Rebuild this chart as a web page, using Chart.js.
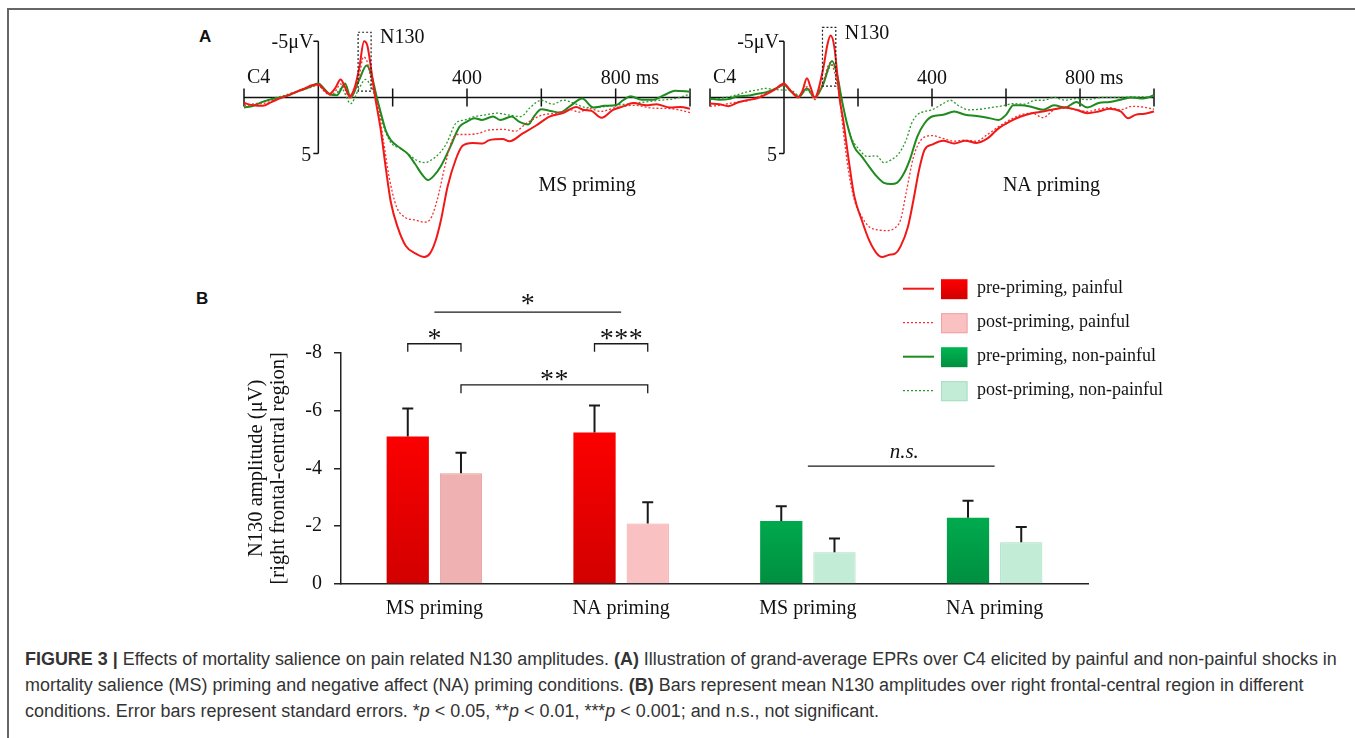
<!DOCTYPE html>
<html>
<head>
<meta charset="utf-8">
<script src="https://cdn.jsdelivr.net/npm/chart.js@4.4.0/dist/chart.umd.min.js"></script>
<style>
  body { margin: 0; width: 1355px; height: 738px; overflow: hidden; background: #fff; position: relative; }
  .frame { position: absolute; left: 7px; top: 8px; width: 1500px; height: 900px; border-left: 2px solid #666; border-top: 2px solid #666; }
  canvas { position: absolute; }
  .panel { position: absolute; font: bold 17px 'Liberation Sans', Arial, sans-serif; line-height: 17px; color: #111; }
  #caption { position: absolute; left: 25px; top: 646px; font-family: 'Liberation Sans', Arial, sans-serif; font-size: 16px; line-height: 26px; color: #333; white-space: nowrap; }
  #caption div { display: block; }
  #cap1 { display: inline-block !important; }
</style>
</head>
<body>
<div class="frame"></div>
<div class="panel" style="left:199px;top:28px">A</div>
<div class="panel" style="left:196px;top:290px">B</div>
<canvas id="erpMS" width="466" height="251" style="left:234px;top:15px"></canvas>
<canvas id="erpNA" width="464" height="251" style="left:700px;top:15px"></canvas>
<canvas id="bars" width="935" height="370" style="left:245px;top:260px"></canvas>
<div id="caption">
  <div><span id="cap1"><b>FIGURE 3 |</b> Effects of mortality salience on pain related N130 amplitudes. <b>(A)</b> Illustration of grand-average EPRs over C4 elicited by painful and non-painful shocks in</span></div>
  <div>mortality salience (MS) priming and negative affect (NA) priming conditions. <b>(B)</b> Bars represent mean N130 amplitudes over right frontal-central region in different</div>
  <div>conditions. Error bars represent standard errors. *<i>p</i> &lt; 0.05, **<i>p</i> &lt; 0.01, ***<i>p</i> &lt; 0.001; and n.s., not significant.</div>
</div>
<script>
// ---- Panel A: grand-average ERPs over C4, [ms, µV] ----
const msPrePainful = [[-200,0.5],[-175,0.7],[-150,0.75],[-125,0.4],[-105,0.1],[-80,-0.2],[-60,-0.5],[-40,-0.75],[-15,-1.1],[0,-1.15],[15,-0.7],[29,-0.3],[45,-0.8],[60,-1.6],[72,-0.9],[84,-0.1],[97,-0.8],[110,-2.6],[123,-5.0],[132,-4.6],[143,-2.3],[153,0],[168,2.9],[182,6.4],[195,9.3],[213,11.5],[235,13.2],[262,13.9],[285,14.2],[300,13.9],[315,12.8],[330,10.9],[348,7.9],[370,5.5],[388,4.3],[415,4.05],[442,4.1],[460,3.8],[496,3.7],[514,3.9],[550,3.2],[586,2.5],[622,1.7],[658,1.4],[694,0.85],[712,1.1],[735,1.2],[762,1.8],[793,1.1],[820,0.8],[847,0.5],[883,0.7],[910,0.6],[946,0.9],[975,0.85],[1000,1.0]];
const msPostPainful = [[-200,0.75],[-175,0.6],[-150,0.55],[-125,0.3],[-100,0.0],[-75,-0.3],[-50,-0.6],[-25,-0.95],[0,-1.05],[15,-0.6],[30,-0.2],[45,-0.5],[60,-1.2],[72,-0.7],[85,0.1],[98,-0.6],[110,-1.8],[121,-3.6],[130,-3.3],[142,-1.6],[152,0],[160,0.6],[175,3.8],[190,7.0],[210,9.7],[235,10.7],[260,10.9],[285,11.1],[300,10.9],[320,9.1],[340,6.2],[360,3.8],[375,3.3],[400,3.3],[430,3.2],[460,2.9],[500,2.85],[530,3.0],[560,2.3],[600,1.6],[640,1.4],[680,1.1],[700,1.3],[730,1.0],[760,1.25],[800,0.9],[850,0.7],[900,0.95],[950,1.0],[1000,1.35]];
const msPreNonPainful = [[-200,0.9],[-175,0.75],[-150,0.4],[-125,0.15],[-100,0],[-75,-0.25],[-50,-0.6],[-25,-0.9],[0,-1.25],[15,-0.8],[30,-0.3],[50,-0.2],[72,-1.25],[87,0],[109,-1.5],[130,-2.85],[143,-2.0],[158,0.1],[170,1.6],[182,3.0],[195,3.8],[220,4.5],[240,5.0],[260,5.9],[280,6.9],[295,7.35],[310,7.0],[330,6.1],[355,4.4],[380,2.6],[400,2.15],[420,1.85],[440,2.0],[470,1.7],[490,2.0],[520,1.7],[540,2.15],[565,2.4],[580,1.7],[600,1.05],[625,1.2],[650,1.35],[680,0.7],[710,0.1],[740,0.9],[770,0.75],[800,0.7],[820,0.25],[840,-0.1],[870,0.2],[900,0.2],[930,-0.2],[960,-0.6],[1000,-0.5]];
const msPostNonPainful = [[-200,0.7],[-175,0.6],[-150,0.4],[-125,0.1],[-100,-0.1],[-75,-0.35],[-50,-0.6],[-25,-0.85],[0,-1.1],[15,-0.6],[30,-0.3],[45,-0.3],[62,-0.8],[87,0.55],[108,-0.7],[127,-1.6],[140,-1.1],[155,0.1],[170,2.0],[185,3.4],[200,4.2],[220,4.5],[240,5.0],[265,5.6],[285,5.8],[305,5.55],[325,5.0],[345,4.1],[370,2.3],[395,2.0],[420,1.7],[450,1.55],[480,1.4],[510,1.55],[545,1.7],[570,0.9],[600,0.25],[630,0.6],[660,0.25],[690,0.55],[720,0.9],[760,0.85],[800,0.7],[840,0.55],[880,0.4],[920,0.25],[960,0.1],[1000,-0.3]];

const naPrePainful = [[-200,0.55],[-175,0.6],[-150,0.78],[-125,0.45],[-100,0.25],[-75,0.1],[-50,-0.25],[-25,-0.7],[0,-1.25],[15,-0.7],[38,0],[50,-0.6],[62,-1.7],[72,-0.9],[83,0],[105,-2.4],[118,-4.8],[126,-5.5],[136,-4.5],[143,-2.4],[150,0],[160,2.0],[175,5.6],[190,8.8],[210,10.9],[230,12.7],[250,13.85],[265,14.2],[285,14.0],[300,13.9],[315,13.25],[335,11.5],[350,9.1],[365,6.45],[380,4.65],[400,4.2],[430,3.85],[460,4.1],[490,3.85],[520,4.05],[550,3.65],[580,2.75],[610,2.15],[640,1.7],[670,1.4],[700,1.25],[730,1.05],[760,0.9],[790,1.1],[820,1.4],[850,1.25],[880,1.0],[910,1.25],[930,1.85],[950,1.55],[975,1.45],[1000,1.25]];
const naPostPainful = [[-200,0.8],[-175,0.7],[-150,0.55],[-125,0.4],[-100,0.3],[-75,0.0],[-50,-0.35],[-25,-0.7],[0,-1.1],[20,-0.6],[40,-0.1],[62,-0.95],[83,0.2],[105,-1.3],[125,-3.1],[140,-1.8],[150,0],[160,2.9],[175,6.7],[190,9.1],[210,10.6],[230,11.5],[255,11.8],[280,11.85],[300,11.6],[315,10.9],[330,8.5],[350,5.3],[370,3.8],[400,3.4],[430,3.65],[460,3.9],[490,3.8],[520,3.9],[550,3.3],[580,2.6],[610,2.0],[640,1.55],[670,1.4],[700,1.8],[730,1.1],[760,0.95],[790,1.1],[820,1.25],[850,1.05],[880,0.9],[910,1.1],[940,0.8],[970,0.85],[1000,1.05]];
const naPreNonPainful = [[-200,0.1],[-175,0.2],[-150,0.15],[-125,-0.1],[-100,-0.15],[-75,-0.3],[-50,-0.45],[-25,-0.75],[0,-1.1],[20,-0.5],[40,-0.05],[62,-0.8],[83,0],[105,-1.1],[130,-3.25],[145,-1.8],[155,0],[170,2.3],[190,4.4],[210,5.25],[230,6.15],[250,7.0],[270,7.6],[290,7.7],[305,7.6],[320,7.0],[340,5.55],[360,3.5],[380,2.3],[400,1.7],[430,1.55],[460,1.25],[490,1.55],[520,1.65],[550,1.8],[580,2.0],[600,1.55],[620,0.7],[640,0.7],[670,0.85],[700,1.1],[730,0.7],[760,0.9],[790,0.4],[820,0.9],[850,0.5],[880,0.4],[910,0.2],[940,0],[970,0.1],[1000,-0.2]];
const naPostNonPainful = [[-200,0.2],[-175,0.1],[-150,-0.05],[-125,-0.25],[-100,-0.5],[-75,-0.65],[-50,-0.8],[-25,-0.7],[0,-0.65],[20,-0.6],[40,-0.2],[62,-0.65],[83,0],[105,-1.2],[130,-2.9],[145,-1.8],[155,0],[170,2.3],[185,3.8],[200,4.5],[225,5.25],[250,5.2],[270,5.8],[290,5.55],[310,5.0],[330,3.8],[345,2.3],[360,1.55],[380,1.25],[400,1.1],[430,0.55],[450,0.25],[470,0.7],[500,1.1],[530,1.05],[560,0.9],[590,0.75],[620,0.55],[650,0.6],[680,0.25],[700,0.25],[730,0],[760,0.25],[790,0.1],[820,0.2],[860,0],[900,0],[940,-0.05],[980,-0.05],[1000,0]];

const erpTicks = [-200, 200, 400, 600, 800, 1000];
const erpTickLabels = { 400: '400', 800: '800' };

// ---- Panel B: N130 amplitudes (µV) ----
const categories = ['MS priming', 'NA priming', 'MS priming', 'NA priming'];
const preValues = [-5.10, -5.24, -2.18, -2.29];
const postValues = [-3.83, -2.09, -1.10, -1.44];
const preErrors = [0.97, 0.93, 0.51, 0.59];
const postErrors = [0.71, 0.74, 0.47, 0.53];
const legendLabels = ['pre-priming, painful', 'post-priming, painful', 'pre-priming, non-painful', 'post-priming, non-painful'];

// significance marks: [dataset, category] (dataset null = category centre), level in µV
const comparisons = [
  { from: [0, 0], to: [1, 0], level: -8.31, leg: 0.28, label: '*' },
  { from: [0, 1], to: [1, 1], level: -8.31, leg: 0.28, label: '***' },
  { from: [1, 0], to: [1, 1], level: -6.89, leg: 0.29, label: '**' },
  { from: [null, 0], to: [null, 1], level: -9.40, leg: 0, label: '*' },
  { from: [null, 2], to: [null, 3], level: -4.08, leg: 0, label: 'n.s.' }
];

const serif = "'Liberation Serif', 'Times New Roman', serif";
const RED = '#f21818', GREEN = '#1d8b1d';
const lineStyles = [
  { color: RED, width: 2, dash: [] },
  { color: '#f53030', width: 1.3, dash: [2, 2] },
  { color: GREEN, width: 2, dash: [] },
  { color: '#2e9a2e', width: 1.3, dash: [2, 2] }
];

const erpAxes = {
  id: 'erpAxes',
  beforeDatasetsDraw(chart, args, o) {
    const { ctx, scales: { x, y } } = chart;
    const y0 = y.getPixelForValue(0), x0 = x.getPixelForValue(0);
    const yTop = y.getPixelForValue(-5), yBot = y.getPixelForValue(5);
    ctx.save();
    ctx.strokeStyle = '#111';
    ctx.lineWidth = 1.5;
    ctx.beginPath();
    ctx.moveTo(x.getPixelForValue(-200), y0);
    ctx.lineTo(x.getPixelForValue(1000), y0);
    erpTicks.forEach(t => {
      const px = x.getPixelForValue(t);
      ctx.moveTo(px, y0 - 9);
      ctx.lineTo(px, y0 + 9);
    });
    ctx.moveTo(x0, yTop); ctx.lineTo(x0, yBot);
    ctx.moveTo(x0 - 5, yTop); ctx.lineTo(x0, yTop);
    ctx.moveTo(x0 - 5, yBot); ctx.lineTo(x0, yBot);
    ctx.stroke();

    ctx.fillStyle = '#111';
    ctx.font = '20px ' + serif;
    ctx.textBaseline = 'middle';
    ctx.textAlign = 'right';
    ctx.fillText('-5\u03bcV', x0 - 5, yTop + 2);
    ctx.fillText('5', x0 - 7, yBot + 2);
    ctx.textAlign = 'left';
    Object.keys(erpTickLabels).forEach(t => {
      const txt = erpTickLabels[t];
      const px = x.getPixelForValue(+t) - ctx.measureText(txt).width / 2;
      ctx.fillText(+t === 800 ? txt + ' ms' : txt, px, y0 - 19);
    });
    ctx.fillText('C4', x.getPixelForValue(-200) + 3, y0 - 20);
    ctx.fillText('N130', x.getPixelForValue(o.box[1]) + 9, y.getPixelForValue(o.box[2]) + 6);
    ctx.textAlign = 'center';
    ctx.fillText(o.title, x.getPixelForValue(723), y.getPixelForValue(7.85));
    ctx.restore();
  },
  afterDatasetsDraw(chart, args, o) {
    const { ctx, scales: { x, y } } = chart;
    const [t1, t2, v1, v2] = o.box;
    ctx.save();
    ctx.strokeStyle = '#222';
    ctx.lineWidth = 1.2;
    ctx.setLineDash([2, 2]);
    const px1 = x.getPixelForValue(t1), px2 = x.getPixelForValue(t2);
    const py1 = y.getPixelForValue(v1), py2 = y.getPixelForValue(v2);
    ctx.strokeRect(px1, py1, px2 - px1, py2 - py1);
    ctx.restore();
  }
};

function erpChart(id, series, title, box) {
  return new Chart(document.getElementById(id), {
    type: 'line',
    data: {
      datasets: series.map((s, i) => ({
        data: s.map(p => ({ x: p[0], y: p[1] })),
        borderColor: lineStyles[i].color,
        borderWidth: lineStyles[i].width,
        borderDash: lineStyles[i].dash,
        pointRadius: 0,
        cubicInterpolationMode: 'monotone',
        fill: false,
        clip: false
      }))
    },
    options: {
      responsive: false,
      animation: false,
      events: [],
      layout: { padding: { left: 10, right: 10, top: 15, bottom: 0 } },
      plugins: { legend: { display: false }, tooltip: { enabled: false }, erpAxes: { title, box } },
      scales: {
        x: { type: 'linear', min: -200, max: 1000, display: false },
        y: { type: 'linear', min: -6, max: 15, reverse: true, display: false }
      }
    },
    plugins: [erpAxes]
  });
}

erpChart('erpMS', [msPrePainful, msPostPainful, msPreNonPainful, msPostNonPainful], 'MS priming', [107, 142, -5.8, -0.56]);
erpChart('erpNA', [naPrePainful, naPostPainful, naPreNonPainful, naPostNonPainful], 'NA priming', [104, 140, -6.24, -1.0]);

// bar fills: [top, bottom] of gradient, border
const preFills = [['#ff0000', '#d20000'], ['#ff0000', '#d20000'], ['#00b552', '#008f40'], ['#00b552', '#008f40']];
const postFills = ['#efb1b1', '#f9c1c1', '#c2ecd5', '#c2ecd5'];
const postBorders = ['#ea9a9a', '#f2a2a2', '#a6e0c0', '#a6e0c0'];
const legendBoxes = [
  { fill: ['#ff0000', '#d20000'], border: null },
  { fill: ['#f9c1c1', '#f9c1c1'], border: '#f2a2a2' },
  { fill: ['#00b552', '#008f40'], border: null },
  { fill: ['#c2ecd5', '#c2ecd5'], border: '#a6e0c0' }
];

function gradientFill(c) {
  const area = c.chart.chartArea;
  const col = preFills[c.dataIndex];
  if (!area) return col[0];
  const g = c.chart.ctx.createLinearGradient(0, area.top, 0, area.bottom);
  g.addColorStop(c.dataIndex < 2 ? 0.3 : 0.6, col[0]);
  g.addColorStop(1, col[1]);
  return g;
}

const barExtras = {
  id: 'barExtras',
  afterDatasetsDraw(chart) {
    const { ctx, scales: { x, y }, chartArea } = chart;
    const errs = [preErrors, postErrors];
    ctx.save();
    // error bars (upper half only)
    ctx.strokeStyle = '#1a1a1a';
    ctx.lineWidth = 2;
    errs.forEach((list, d) => {
      const meta = chart.getDatasetMeta(d);
      meta.data.forEach((bar, i) => {
        const v = chart.data.datasets[d].data[i];
        const top = y.getPixelForValue(v - list[i]);
        ctx.beginPath();
        ctx.moveTo(bar.x, bar.y);
        ctx.lineTo(bar.x, top);
        ctx.moveTo(bar.x - 5.5, top);
        ctx.lineTo(bar.x + 5.5, top);
        ctx.stroke();
      });
    });

    // significance brackets
    const xOf = ([d, c]) => d === null ? x.getPixelForValue(c) : chart.getDatasetMeta(d).data[c].x;
    ctx.lineWidth = 1.3;
    comparisons.forEach(cmp => {
      const xa = xOf(cmp.from), xb = xOf(cmp.to);
      const yl = y.getPixelForValue(cmp.level);
      const yb = y.getPixelForValue(cmp.level + cmp.leg);
      ctx.beginPath();
      ctx.moveTo(xa, yb); ctx.lineTo(xa, yl); ctx.lineTo(xb, yl); ctx.lineTo(xb, yb);
      ctx.stroke();
      ctx.fillStyle = '#111';
      ctx.textAlign = 'center';
      ctx.textBaseline = 'alphabetic';
      const mid = (xa + xb) / 2;
      if (cmp.label === 'n.s.') {
        ctx.font = 'italic 21px ' + serif;
        ctx.fillText(cmp.label, mid + 3, yl - 8);
      } else {
        ctx.font = '28px ' + serif;
        const n = cmp.label.length, step = 14.5;
        for (let k = 0; k < n; k++) {
          ctx.fillText('*', mid + (k - (n - 1) / 2) * step, yl + 3 - (cmp.leg ? 0 : 3));
        }
      }
    });

    // legend
    const lx = chartArea.right - 185, ly = chartArea.top - 64;
    ctx.font = '18px ' + serif;
    ctx.textAlign = 'left';
    ctx.textBaseline = 'middle';
    legendLabels.forEach((label, i) => {
      const cy = ly + i * 34;
      const st = lineStyles[i];
      ctx.strokeStyle = st.color;
      ctx.lineWidth = st.width;
      ctx.setLineDash(st.dash);
      ctx.beginPath();
      ctx.moveTo(lx, cy); ctx.lineTo(lx + 31, cy);
      ctx.stroke();
      ctx.setLineDash([]);
      const bx = lx + 38, by = cy - 9.5;
      const b = legendBoxes[i];
      const g = ctx.createLinearGradient(0, by, 0, by + 20);
      g.addColorStop(0, b.fill[0]); g.addColorStop(1, b.fill[1]);
      ctx.fillStyle = g;
      ctx.fillRect(bx, by, 26.5, 20);
      if (b.border) {
        ctx.strokeStyle = b.border;
        ctx.lineWidth = 1;
        ctx.strokeRect(bx + 0.5, by + 0.5, 25.5, 19);
      }
      ctx.fillStyle = '#111';
      ctx.fillText(label, lx + 74, cy);
    });
    ctx.restore();
  }
};

new Chart(document.getElementById('bars'), {
  type: 'bar',
  data: {
    labels: categories,
    datasets: [
      { label: 'pre-priming', data: preValues, backgroundColor: gradientFill, borderWidth: 0 },
      { label: 'post-priming', data: postValues, backgroundColor: postFills, borderColor: postBorders, borderWidth: 1 }
    ]
  },
  options: {
    responsive: false,
    animation: false,
    events: [],
    categoryPercentage: 0.57,
    barPercentage: 0.794,
    layout: { padding: { top: 92.7, right: 92, left: 0, bottom: 0 } },
    plugins: { legend: { display: false }, tooltip: { enabled: false } },
    scales: {
      x: {
        grid: { display: false, drawTicks: false },
        border: { display: true, color: '#222', width: 1.5 },
        ticks: { color: '#111', font: { family: serif, size: 20 }, padding: 13 },
        afterFit: s => { s.height = 46; }
      },
      y: {
        reverse: true,
        min: -8,
        max: 0,
        ticks: { stepSize: 2, color: '#111', font: { family: serif, size: 20 }, padding: 12 },
        grid: { drawOnChartArea: false, drawTicks: true, tickLength: 7, color: '#222', lineWidth: 1.5 },
        border: { display: true, color: '#222', width: 1.5 },
        title: {
          display: true,
          text: ['N130 amplitude (\u03bcV)', '[right frontal-central region]'],
          color: '#111',
          font: { family: serif, size: 20.5, lineHeight: 1.09 },
          padding: { top: 0, bottom: 0 }
        },
        afterFit: s => { s.width = 96; }
      }
    }
  },
  plugins: [barExtras]
});

// fit the caption's first line to the figure width
const cap = document.getElementById('caption');
const w = document.getElementById('cap1').getBoundingClientRect().width;
cap.style.fontSize = (16 * 1313 / w).toFixed(2) + 'px';
</script>
</body>
</html>
